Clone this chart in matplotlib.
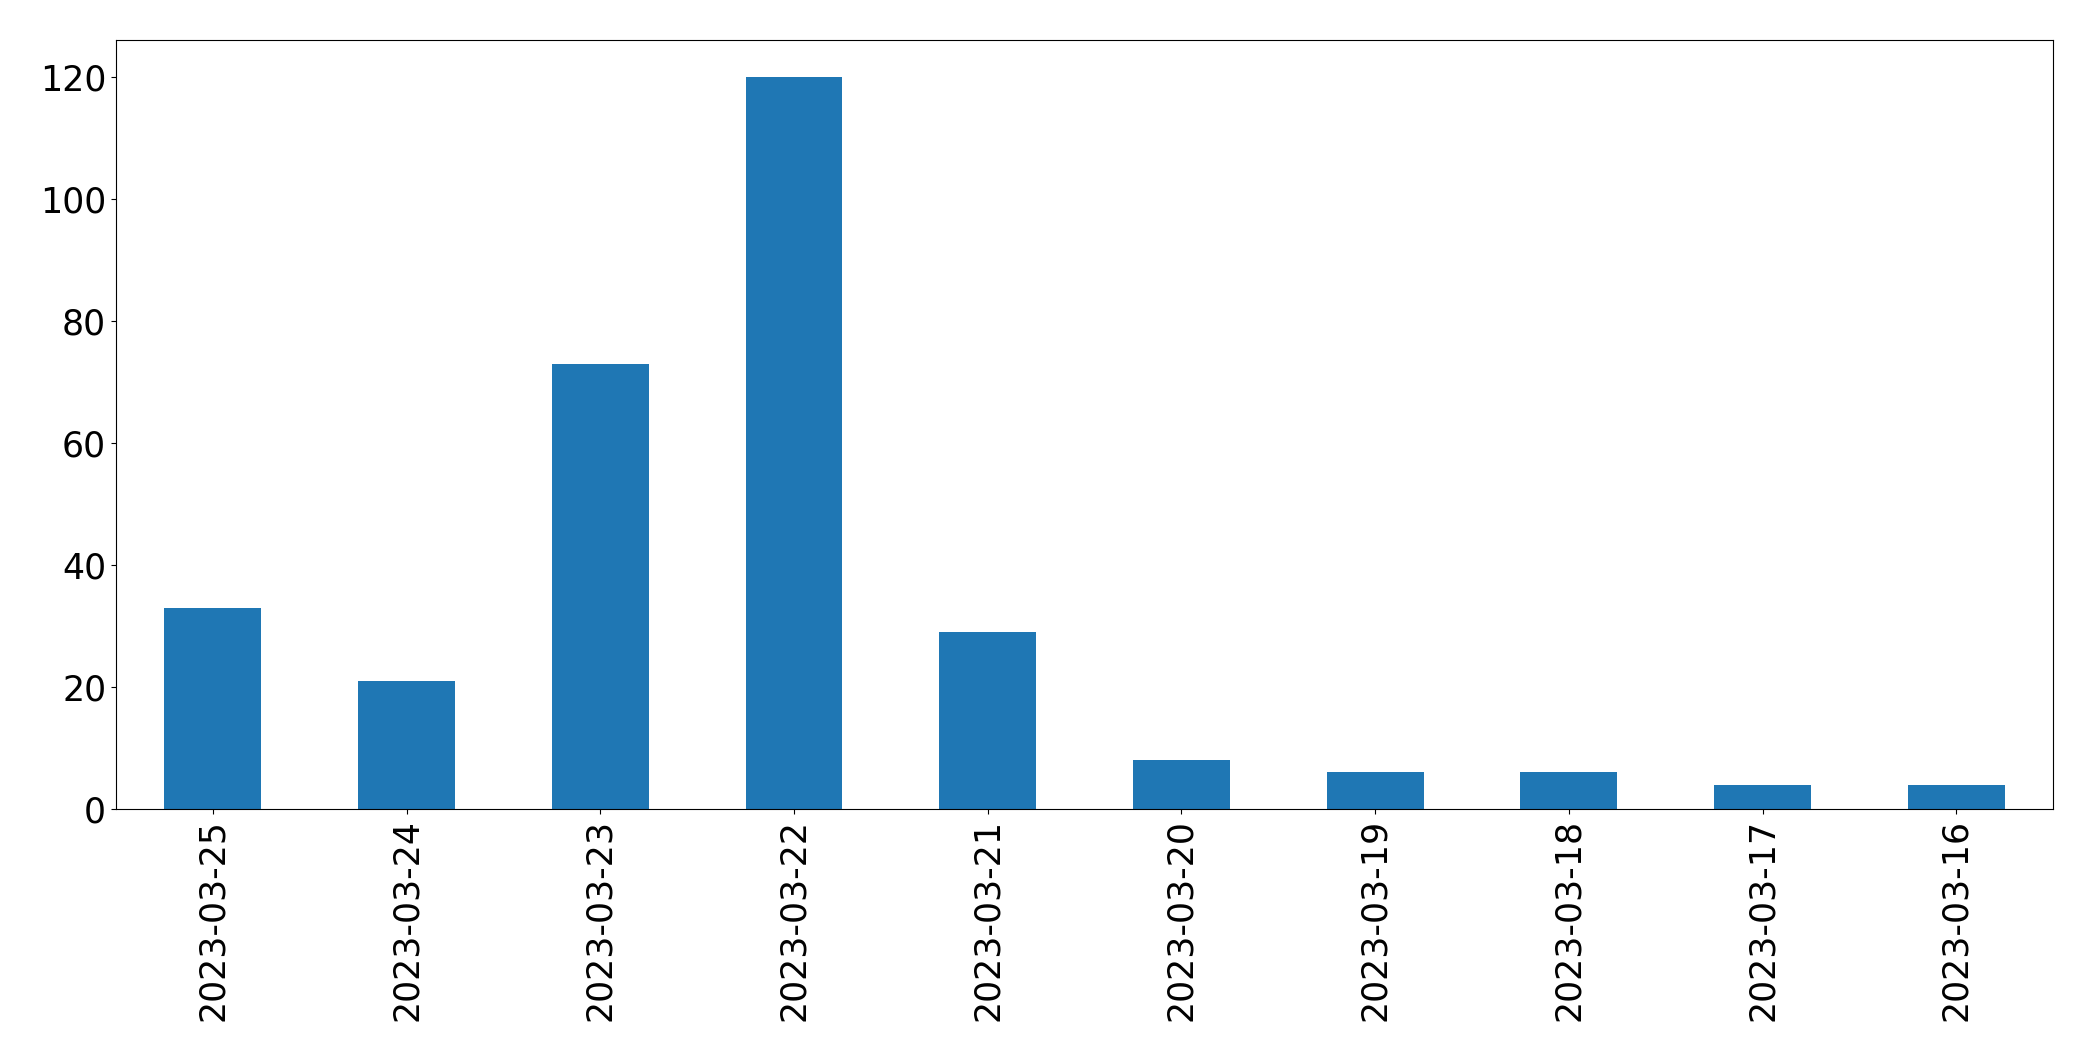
import matplotlib
matplotlib.use("Agg")
import matplotlib.pyplot as plt
import numpy as np

dates = ["2023-03-25", "2023-03-24", "2023-03-23", "2023-03-22", "2023-03-21",
         "2023-03-20", "2023-03-19", "2023-03-18", "2023-03-17", "2023-03-16"]
counts = [33, 21, 73, 120, 29, 8, 6, 6, 4, 4]

fig, ax = plt.subplots(figsize=(20.93, 10.61), dpi=100)
x = np.arange(len(dates))
ax.bar(x, counts, width=0.5, color="#1f77b4")
ax.set_xticks(x)
ax.set_xticklabels(dates, rotation=90)
ax.set_xlim(-0.5, len(dates) - 0.5)
ax.set_ylim(0, 126)
ax.tick_params(axis="both", labelsize=25)
fig.subplots_adjust(left=0.0554, right=0.981, top=0.962, bottom=0.2375)
fig.savefig("out.png", dpi=100)
